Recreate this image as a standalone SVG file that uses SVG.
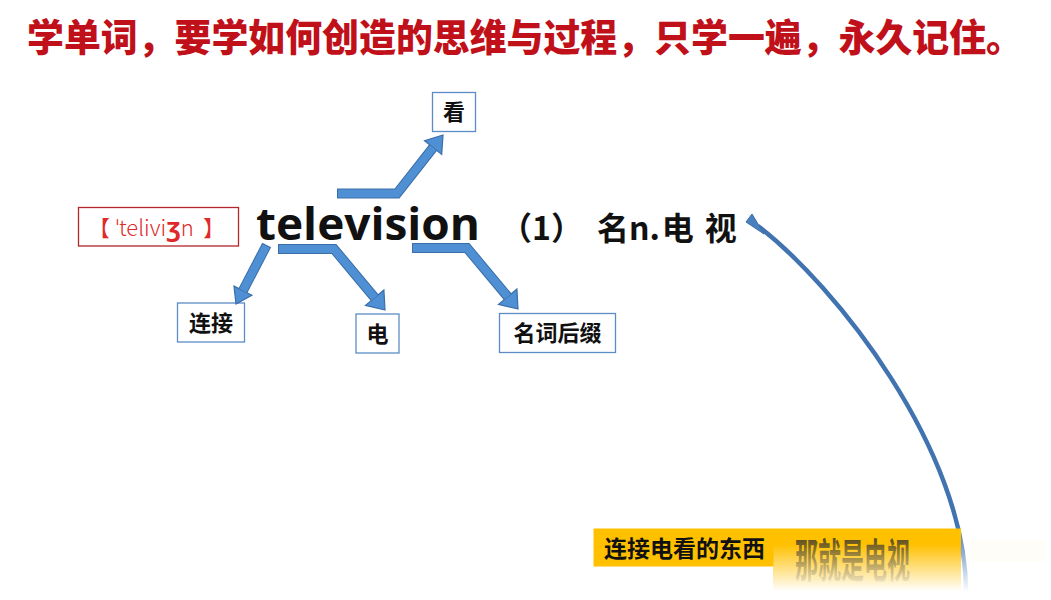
<svg xmlns="http://www.w3.org/2000/svg" width="1051" height="600" viewBox="0 0 1051 600">
<defs>
<style>
.cjk{font-family:"Noto Sans CJK SC","Noto Sans",sans-serif;}
.title{font-size:38px;font-weight:900;fill:#c0101a;}
.box{fill:#ffffff;stroke:#5b8cc6;stroke-width:1.3;}
.lbl{font-size:22px;font-weight:700;fill:#111;text-anchor:middle;}
.shaftO{fill:none;stroke:#3a6ea8;stroke-width:10;stroke-linejoin:miter;}
.shaftI{fill:none;stroke:#4f8fd3;stroke-width:8;stroke-linejoin:miter;}
.head{fill:#4f8fd3;stroke:#3a6ea8;stroke-width:1.2;stroke-linejoin:miter;}
</style>
<linearGradient id="curveFade" gradientUnits="userSpaceOnUse" x1="0" y1="525" x2="0" y2="592">
<stop offset="0" stop-color="#4173b0" stop-opacity="1"/>
<stop offset="1" stop-color="#4173b0" stop-opacity="0"/>
</linearGradient>
<linearGradient id="yellowFade" x1="0" y1="0" x2="0" y2="1">
<stop offset="0" stop-color="#ffc000"/>
<stop offset="0.25" stop-color="#ffc000"/>
<stop offset="1" stop-color="#ffc000" stop-opacity="0"/>
</linearGradient>
<linearGradient id="textFade" x1="0" y1="0" x2="0" y2="1">
<stop offset="0" stop-color="#1a1a1a"/>
<stop offset="0.3" stop-color="#333333" stop-opacity="0.7"/>
<stop offset="1" stop-color="#666666" stop-opacity="0"/>
</linearGradient>
</defs>
<rect width="1051" height="600" fill="#ffffff"/>

<text id="title" class="cjk title" x="27" y="51" textLength="996" lengthAdjust="spacingAndGlyphs">学单词，要学如何创造的思维与过程，只学一遍，永久记住。</text>

<g id="phonetic">
<rect x="78.5" y="207.5" width="160" height="38.5" fill="#ffffff" stroke="#b3262b" stroke-width="1.3"/>
<text class="cjk" y="236" font-size="22" font-weight="300" fill="#e02a2a"><tspan x="88">【</tspan><tspan x="116">ˈtelivi</tspan><tspan font-size="25" font-weight="700">ʒ</tspan><tspan>n</tspan><tspan x="203">】</tspan></text>
</g>

<g id="word">
<text x="256" y="240" font-family="'Open Sans','DejaVu Sans',sans-serif" font-size="44" font-weight="700" fill="#111" textLength="224" lengthAdjust="spacingAndGlyphs">television</text>
</g>

<g id="meaning">
<text class="cjk" x="500" y="240" font-size="32" font-weight="700" fill="#111">（1）<tspan dx="14">名n.</tspan><tspan dx="2">电</tspan><tspan dx="11">视</tspan></text>
</g>

<g id="node-kan">
<rect class="box" x="432.5" y="92.5" width="43" height="39"/>
<text class="cjk lbl" x="454" y="120">看</text>
</g>
<g id="node-lianjie">
<rect class="box" x="177.5" y="303" width="67" height="39"/>
<text class="cjk lbl" x="211" y="330.5">连接</text>
</g>
<g id="node-dian">
<rect class="box" x="356" y="314" width="43" height="39"/>
<text class="cjk lbl" x="377.5" y="341.5">电</text>
</g>
<g id="node-suffix">
<rect class="box" x="499.5" y="313.5" width="116" height="39"/>
<text class="cjk lbl" x="557.5" y="341">名词后缀</text>
</g>

<g id="connectors">
<g>
<path class="shaftO" d="M337 193.5 H397 L433.1 147.6"/>
<polygon class="head" points="443,135 441.7,154.4 424.5,140.8"/>
<path class="shaftI" d="M338 193.5 H397 L433.1 147.6"/>
</g>
<g>
<path class="shaftO" d="M266.7 245 L242.9 290.7"/>
<polygon class="head" points="236,304 251.8,295.3 234,286.1"/>
<path class="shaftI" d="M266.2 246 L242.9 290.7"/>
</g>
<g>
<path class="shaftO" d="M278 249 H334 L374.7 297.7"/>
<polygon class="head" points="385,310 365.5,305.4 383.9,290"/>
<path class="shaftI" d="M279 249 H334 L374.7 297.7"/>
</g>
<g>
<path class="shaftO" d="M412 248 H467 L507.7 296.7"/>
<polygon class="head" points="518,309 498.5,304.4 516.9,289"/>
<path class="shaftI" d="M413 248 H467 L507.7 296.7"/>
</g>
<g>
<path d="M966 592 C966 450 835 285 758 226" fill="none" stroke="url(#curveFade)" stroke-width="4.5"/>
<polygon points="746,222 752,214 764,234" fill="#4a80c0" stroke="#3a6ea8" stroke-width="1"/>
</g>
</g>

<g id="caption">
<rect x="593.5" y="528.5" width="180" height="38" fill="#ffc000"/>
<rect x="773" y="528.5" width="188" height="63" fill="url(#yellowFade)"/>
<rect x="970" y="540" width="75" height="22" fill="#fff3d6" opacity="0.2"/>
<text class="cjk" x="604" y="557" font-size="23" font-weight="700" fill="#111">连接电看的东西</text>
<text class="cjk" x="795" y="557" font-size="23" font-weight="700" fill="url(#textFade)" transform="translate(0,537) scale(1,2) translate(0,-537)">那就是电视</text>
</g>
</svg>
